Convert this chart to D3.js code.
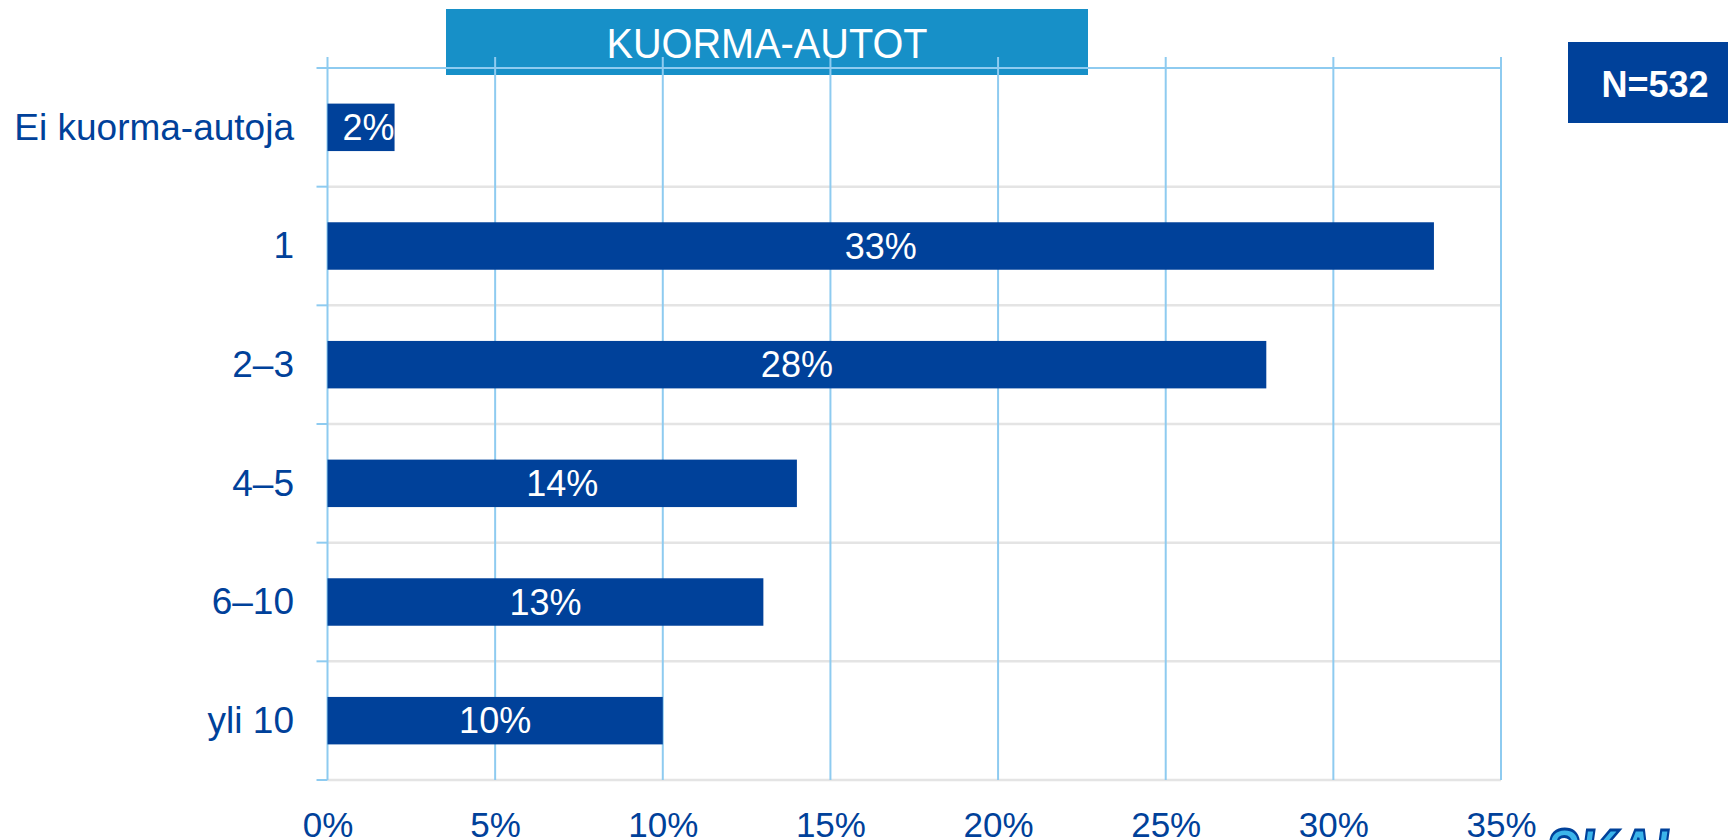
<!DOCTYPE html>
<html>
<head>
<meta charset="utf-8">
<script src="https://cdn.jsdelivr.net/npm/d3@7"></script>
<style>
  body { margin: 0; background: #fff; }
  svg { display: block; font-family: "Liberation Sans", Arial, sans-serif; }
</style>
</head>
<body>
<div id="chart"></div>
<script>
// values
var categories = ["Ei kuorma-autoja", "1", "2–3", "4–5", "6–10", "yli 10"]
var values = [2, 33, 28, 14, 13, 10]
var tickValues = [0, 5, 10, 15, 20, 25, 30, 35]
var title = "KUORMA-AUTOT"
var nLabel = "N=532"

var width = 1734, height = 840
var darkBlue = "#00419a", lightBlue = "#8ecbf0", grey = "#e4e4e4"

var svg = d3.select("#chart")
  .append("svg")
    .attr("width", width)
    .attr("height", height)

// plot area
var plot = {left: 327.5, right: 1501, top: 68, bottom: 780}

var x = d3.scaleLinear()
  .domain([0, 35])
  .range([plot.left, plot.right])

var y = d3.scaleBand()
  .domain(categories)
  .range([plot.top, plot.bottom])
  .paddingInner(0.6)
  .paddingOuter(0.3)

var step = y.step()

// title box sits behind the grid
svg.append("rect")
  .attr("x", 446).attr("y", 9)
  .attr("width", 642).attr("height", 66)
  .attr("fill", "#1790c8")

// grey category separators
svg.append("g")
  .selectAll("line")
  .data(categories)
  .enter().append("line")
    .attr("x1", plot.left).attr("x2", plot.right)
    .attr("y1", function(d, i) { return plot.top + step * (i + 1) })
    .attr("y2", function(d, i) { return plot.top + step * (i + 1) })
    .attr("stroke", grey)
    .attr("stroke-width", 2.5)

// light blue stubs on the left
svg.append("g")
  .selectAll("line")
  .data(d3.range(categories.length + 1))
  .enter().append("line")
    .attr("x1", plot.left - 11).attr("x2", plot.left)
    .attr("y1", function(i) { return plot.top + step * i })
    .attr("y2", function(i) { return plot.top + step * i })
    .attr("stroke", lightBlue)
    .attr("stroke-width", 2)

// top line
svg.append("line")
  .attr("x1", plot.left).attr("x2", plot.right)
  .attr("y1", plot.top).attr("y2", plot.top)
  .attr("stroke", lightBlue)
  .attr("stroke-width", 2)

// vertical gridlines
svg.append("g")
  .selectAll("line")
  .data(tickValues)
  .enter().append("line")
    .attr("x1", function(d) { return x(d) })
    .attr("x2", function(d) { return x(d) })
    .attr("y1", 57).attr("y2", plot.bottom)
    .attr("stroke", lightBlue)
    .attr("stroke-width", 2)

// title text
svg.append("text")
  .attr("x", 767).attr("y", 58)
  .attr("text-anchor", "middle")
  .attr("fill", "#fff")
  .attr("font-size", 42)
  .attr("textLength", 321)
  .attr("lengthAdjust", "spacingAndGlyphs")
  .text(title)

// bars
var bars = svg.append("g")
  .selectAll("g")
  .data(categories)
  .enter().append("g")

bars.append("rect")
  .attr("x", x(0))
  .attr("y", function(d) { return y(d) })
  .attr("width", function(d, i) { return x(values[i]) - x(0) })
  .attr("height", y.bandwidth())
  .attr("fill", darkBlue)

// labels centred, except the short bar where it is pushed to the end
bars.append("text")
  .attr("x", function(d, i) {
    var w = x(values[i]) - x(0)
    return w < 80 ? x(values[i]) - 26 : x(0) + w / 2
  })
  .attr("y", function(d) { return y(d) + y.bandwidth() / 2 })
  .attr("dy", "0.35em")
  .attr("text-anchor", "middle")
  .attr("fill", "#fff")
  .attr("font-size", 36)
  .text(function(d, i) { return values[i] + "%" })

// category axis
var yAxis = svg.append("g")
  .attr("transform", "translate(" + 294 + ",0)")
  .call(d3.axisLeft(y).tickSize(0).tickPadding(0))
yAxis.select(".domain").remove()
yAxis.selectAll("text")
  .attr("fill", darkBlue)
  .attr("font-size", 37)
  .attr("font-family", "Liberation Sans, Arial, sans-serif")
  .attr("dy", "0.33em")

// percent axis
var xAxis = svg.append("g")
  .attr("transform", "translate(0," + 838 + ")")
  .call(d3.axisBottom(x).tickValues(tickValues).tickSize(0).tickPadding(0)
    .tickFormat(function(d) { return d + "%" }))
xAxis.select(".domain").remove()
xAxis.selectAll("text")
  .attr("fill", darkBlue)
  .attr("font-size", 35)
  .attr("font-family", "Liberation Sans, Arial, sans-serif")
  .attr("dy", "-0.02em")

// N box
svg.append("rect")
  .attr("x", 1568).attr("y", 42)
  .attr("width", 160).attr("height", 81)
  .attr("fill", darkBlue)
svg.append("text")
  .attr("x", 1655).attr("y", 97)
  .attr("text-anchor", "middle")
  .attr("fill", "#fff")
  .attr("font-size", 36)
  .attr("font-weight", "bold")
  .text(nLabel)

// logo peeking in at the bottom right
svg.append("text")
  .attr("x", 1545).attr("y", 880)
  .attr("font-size", 72)
  .attr("font-weight", "bold")
  .attr("font-style", "italic")
  .attr("textLength", 140)
  .attr("lengthAdjust", "spacingAndGlyphs")
  .attr("fill", "#3bb4ea")
  .attr("stroke", darkBlue)
  .attr("stroke-width", 3)
  .text("SKAL")
</script>
</body>
</html>
